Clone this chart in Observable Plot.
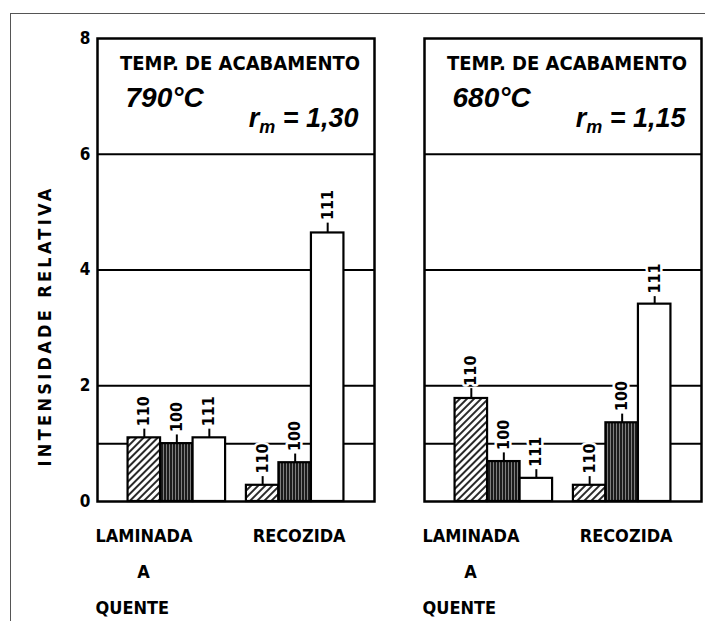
<!DOCTYPE html>
<html>
<head>
<meta charset="utf-8">
<script src="https://cdn.jsdelivr.net/npm/d3@7"></script>
<script src="https://cdn.jsdelivr.net/npm/@observablehq/plot@0.6"></script>
<style>
  body { margin: 0; background: #fff; }
  #chart { position: relative; width: 705px; height: 621px; overflow: hidden; background: #fff; }
  #chart svg { position: absolute; left: 0; top: 0; }
  #border { position: absolute; left: 10px; top: 13px; right: -5px; bottom: -5px;
            border-top: 1.5px solid #555; border-left: 1.5px solid #555; pointer-events: none; }
</style>
</head>
<body>
<div id="chart"></div>
<script>
// Finishing temperatures (one panel each) and their mean r-values
const panels = ["790°C", "680°C"];
const rmValues = ["1,30", "1,15"];

// Sample conditions and crystallographic planes
const groups = ["LAMINADA", "RECOZIDA"];
const hotRolledLines = ["LAMINADA", "A", "QUENTE"];
const planes = ["110", "100", "111"];

// Relative intensities: LAMINADA 110/100/111, RECOZIDA 110/100/111
const intensity790 = [1.10, 1.00, 1.10, 0.28, 0.67, 4.64];
const intensity680 = [1.78, 0.69, 0.40, 0.28, 1.36, 3.41];
// Scatter shown above each bar
const spread790 = [0.15, 0.15, 0.15, 0.15, 0.15, 0.17];
const spread680 = [0.17, 0.15, 0.15, 0.15, 0.15, 0.13];

const yTicks = [0, 2, 4, 6, 8];
const gridValues = [1, 2, 4, 6];
const yTitle = "INTENSIDADE RELATIVA";
const panelTitle = "TEMP. DE ACABAMENTO";

// Layout: bars of one group touch; groups are separated by a narrower gap
const GROUP_GAP = 0.64;
const OUTER = 0.94;

const fills = { "110": "url(#hatch110)", "100": "url(#stripe100)", "111": "#fff" };
const FONT = "'DejaVu Sans Condensed', 'Liberation Sans Narrow', 'DejaVu Sans', sans-serif";
const ITALIC_FONT = "'Liberation Sans', Arial, sans-serif";

const bars = [];
[intensity790, intensity680].forEach((series, k) => {
  const spread = k === 0 ? spread790 : spread680;
  series.forEach((v, i) => {
    const gi = Math.floor(i / 3), pi = i % 3;
    bars.push({
      panel: panels[k], group: groups[gi], plane: planes[pi],
      value: v, spread: spread[i],
      slot: gi * (3 + GROUP_GAP) + pi
    });
  });
});
const panelRows = panels.map((p, k) => ({ panel: p, rm: rmValues[k] }));
const recozidaCenter = (3 + GROUP_GAP) + 1.5;

const svg = Plot.plot({
  width: 705,
  height: 621,
  marginTop: 38,
  marginBottom: 120,
  marginLeft: 97,
  marginRight: 4,
  style: { fontFamily: FONT, background: "transparent", color: "#000" },
  fx: { domain: panels, axis: null, paddingInner: 0.153, paddingOuter: 0 },
  x: { domain: [-OUTER, 6 + GROUP_GAP + OUTER], axis: null },
  y: { domain: [0, 8], axis: null },
  marks: [
    Plot.ruleY(gridValues, { y: d => d, stroke: "#000", strokeWidth: 2 }),
    ...planes.map(pl => Plot.rectY(bars.filter(d => d.plane === pl), {
      fx: "panel", x1: "slot", x2: d => d.slot + 1, y1: 0, y2: "value",
      fill: fills[pl], stroke: "#000", strokeWidth: 2.2
    })),
    Plot.ruleX(bars, {
      fx: "panel", x: d => d.slot + 0.5, y1: "value", y2: d => d.value + d.spread,
      stroke: "#000", strokeWidth: 2
    }),
    Plot.text(bars, {
      fx: "panel", x: d => d.slot + 0.5, y: d => d.value + d.spread, text: "plane",
      rotate: -90, textAnchor: "start", dy: -3, fontSize: 16, fontWeight: "bold",
      fill: "#000", stroke: "#fff", strokeWidth: 5, paintOrder: "stroke"
    }),
    Plot.frame({ stroke: "#000", strokeWidth: 2.5 }),
    // y axis ticks and title, left panel only
    Plot.text(yTicks, {
      fx: () => panels[0], y: d => d, frameAnchor: "left", text: d => String(d),
      textAnchor: "end", dx: -7, fontSize: 17, fontWeight: "bold"
    }),
    Plot.text([yTitle], {
      fx: () => panels[0], frameAnchor: "left", text: d => d, rotate: -90,
      textAnchor: "middle", lineAnchor: "middle",
      dx: -52, dy: 56, fontSize: 18, fontWeight: "bold"
    }),
    // panel headers
    Plot.text(panelRows, {
      fx: "panel", frameAnchor: "top", text: () => panelTitle,
      dx: 4, dy: 17, fontSize: 20, fontWeight: "bold"
    }),
    Plot.text(panelRows, {
      fx: "panel", frameAnchor: "top-left", text: "panel", textAnchor: "start",
      dx: 28, dy: 49, fontSize: 28, fontWeight: "bold", fontStyle: "italic",
      fontFamily: ITALIC_FONT
    }),
    Plot.text(panelRows, {
      fx: "panel", frameAnchor: "top-right", text: d => "rm = " + d.rm, textAnchor: "end",
      dx: -16, dy: 69, fontSize: 27, fontWeight: "bold", fontStyle: "italic",
      fontFamily: ITALIC_FONT
    }),
    // sample condition labels under each panel
    ...hotRolledLines.map((line, i) => Plot.text(panelRows, {
      fx: "panel", frameAnchor: "bottom-left", text: () => line,
      textAnchor: i === 1 ? "middle" : "start",
      dx: i === 1 ? 46 : -2, dy: 40 + i * 36, fontSize: 18, fontWeight: "bold"
    })),
    Plot.text(panelRows, {
      fx: "panel", x: () => recozidaCenter, frameAnchor: "bottom", text: () => groups[1],
      dx: 4, dy: 40, fontSize: 18, fontWeight: "bold"
    })
  ]
});

// Patterns for the 110 (diagonal hatch) and 100 (dense vertical stripes) bars
const defs = d3.select(svg).insert("defs", ":first-child");
const hatch = defs.append("pattern").attr("id", "hatch110")
  .attr("patternUnits", "userSpaceOnUse").attr("width", 5).attr("height", 5)
  .attr("patternTransform", "rotate(45)");
hatch.append("rect").attr("width", 5).attr("height", 5).attr("fill", "#fff");
hatch.append("line").attr("x1", 1).attr("y1", 0).attr("x2", 1).attr("y2", 5)
  .attr("stroke", "#111").attr("stroke-width", 1.8);
const stripe = defs.append("pattern").attr("id", "stripe100")
  .attr("patternUnits", "userSpaceOnUse").attr("width", 3).attr("height", 3);
stripe.append("rect").attr("width", 3).attr("height", 3).attr("fill", "#1c1c1c");
stripe.append("line").attr("x1", 1.5).attr("y1", 0).attr("x2", 1.5).attr("y2", 3)
  .attr("stroke", "#8a8a8a").attr("stroke-width", 0.9);

d3.select(svg).selectAll("text").each(function () {
  const full = this.textContent;
  const t = d3.select(this);
  if (full === yTitle) {
    // spaced-out lettering of the axis title
    t.style("letter-spacing", "3.3px");
  } else if (full.startsWith("rm = ")) {
    // r with subscript m
    const rest = full.slice(2);
    t.text(null);
    t.append("tspan").text("r");
    t.append("tspan").attr("dy", 6).attr("font-size", 18).text("m");
    t.append("tspan").attr("dy", -6).text(rest);
  }
});

const chart = document.getElementById("chart");
chart.appendChild(svg);
const border = document.createElement("div");
border.id = "border";
chart.appendChild(border);
</script>
</body>
</html>
